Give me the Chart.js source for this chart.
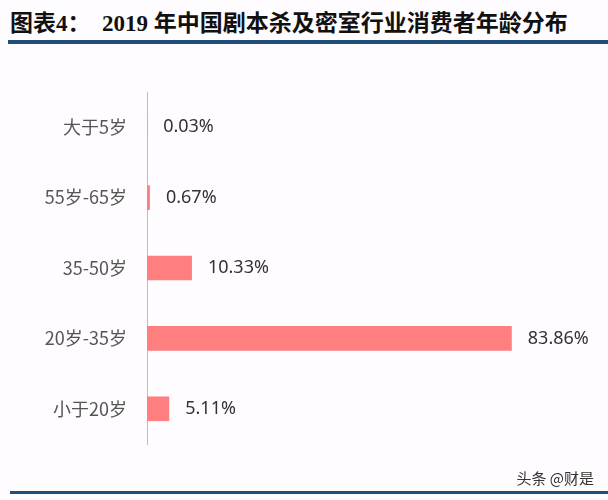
<!DOCTYPE html>
<html>
<head>
<meta charset="utf-8">
<script src="https://cdn.jsdelivr.net/npm/chart.js@4"></script>
<style>
  html, body { margin: 0; padding: 0; background: #fefcfe; }
  #wrap { position: relative; width: 608px; height: 500px; overflow: hidden; }
  #title {
    position: absolute; left: 10px; top: 4px;
    font: bold 23px "Liberation Serif", "Noto Sans CJK SC", serif;
    color: #111; white-space: pre;
  }
  .rule { position: absolute; background: #1f4e79; }
  #mark {
    position: absolute; right: 14px; top: 467px;
    font: 15px "Noto Sans CJK SC", sans-serif; color: #333;
  }
  canvas { position: absolute; left: 0; top: 0; }
</style>
</head>
<body>
<div id="wrap">
  <div id="title">图表4：  2019 年中国剧本杀及密室行业消费者年龄分布</div>
  <div class="rule" style="left:8px; top:40px; width:600px; height:4px;"></div>
  <canvas id="chart" width="608" height="500"></canvas>
  <div id="mark">头条 @财是</div>
  <div class="rule" style="left:10px; top:491px; width:598px; height:3px;"></div>
</div>
<script>
  // -------------------- Data --------------------
  const categories = ['大于5岁', '55岁-65岁', '35-50岁', '20岁-35岁', '小于20岁'];
  const shares = [0.03, 0.67, 10.33, 83.86, 5.11];
  const shareLabels = ['0.03%', '0.67%', '10.33%', '83.86%', '5.11%'];

  // value labels to the right of each bar
  const valueLabels = {
    id: 'valueLabels',
    afterDatasetsDraw(chart) {
      const ctx = chart.ctx;
      const meta = chart.getDatasetMeta(0);
      ctx.save();
      ctx.font = '18px "Noto Sans", sans-serif';
      ctx.fillStyle = '#333';
      ctx.textAlign = 'left';
      ctx.textBaseline = 'middle';
      meta.data.forEach((bar, i) => {
        ctx.fillText(shareLabels[i], bar.x + 16, bar.y);
      });
      ctx.restore();
    }
  };

  new Chart(document.getElementById('chart'), {
    type: 'bar',
    data: {
      labels: categories,
      datasets: [{
        data: shares,
        backgroundColor: '#ff7f80',
        borderWidth: 0,
        barPercentage: 0.35,
        categoryPercentage: 1,
      }]
    },
    options: {
      indexAxis: 'y',
      responsive: false,
      animation: false,
      layout: { padding: { top: 92, bottom: 56, right: 26, left: 0 } },
      plugins: {
        legend: { display: false },
        tooltip: { enabled: false },
      },
      scales: {
        x: { display: false, min: 0, max: 100 },
        y: {
          afterFit: (scale) => { scale.width = 147; },
          grid: { display: false, drawTicks: false },
          border: { display: true, color: '#bdbdbd', width: 1 },
          ticks: {
            padding: 20,
            color: '#555',
            font: { size: 18, family: '"Noto Sans CJK SC", sans-serif' },
          },
        },
      },
    },
    plugins: [valueLabels],
  });
</script>
</body>
</html>
